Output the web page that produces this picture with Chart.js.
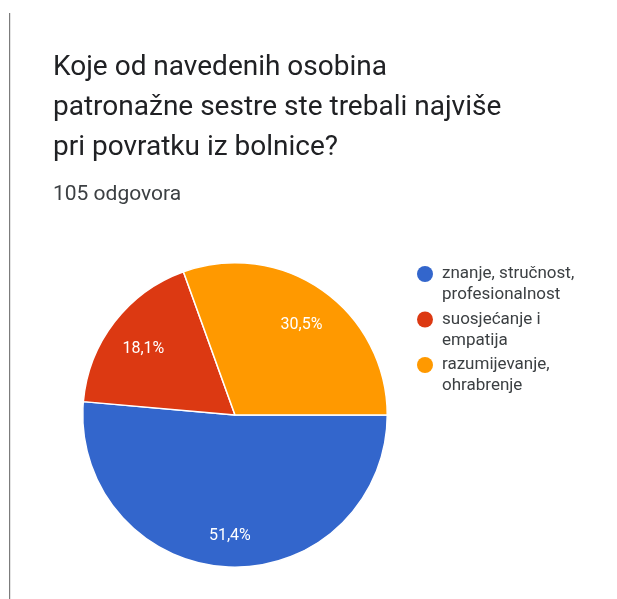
<!DOCTYPE html>
<html>
<head>
<meta charset="utf-8">
<script src="https://cdn.jsdelivr.net/npm/chart.js@4.4.0/dist/chart.umd.min.js"></script>
<style>
    body { margin: 0; background: #fff; }
    .frame { position: relative; width: 617px; height: 599px; }
    .frame .edge { position: absolute; left: 9px; top: 13px; width: 1px; height: 586px; background: #7c7c7c; border-right: 1px solid #e4e4e4; }
    canvas { position: absolute; left: 0; top: 0; }
</style>
</head>
<body>
<div class="frame">
    <div class="edge"></div>
    <canvas id="pieChart" width="617" height="599"></canvas>
</div>
<script>
// Chart data
const titleLines = ['Koje od navedenih osobina', 'patronažne sestre ste trebali najviše', 'pri povratku iz bolnice?'];
const subtitleText = '105 odgovora';
const categories = [['znanje, stručnost,', 'profesionalnost'], ['suosjećanje i', 'empatija'], ['razumijevanje,', 'ohrabrenje']];
const percentages = [51.4, 18.1, 30.5];
const sliceColors = ['#3366cc', '#dc3912', '#ff9900'];

// Title + subtitle drawn above the pie
const headerPlugin = {
    id: 'header',
    afterDraw(chart) {
        const ctx = chart.ctx;
        ctx.save();
        ctx.fillStyle = '#202124';
        ctx.textBaseline = 'alphabetic';
        ctx.textAlign = 'left';
        ctx.font = '28px Roboto';
        titleLines.forEach((line, i) => {
            ctx.fillText(line, 53, 75 + i * 40);
        });
        ctx.font = '21px Roboto';
        ctx.fillStyle = '#3c4043';
        ctx.fillText(subtitleText, 53, 200);
        ctx.restore();
    }
};

// Legend on the right with wrapped labels
const sideLegendPlugin = {
    id: 'sideLegend',
    afterDraw(chart) {
        const ctx = chart.ctx;
        const labels = chart.data.labels;
        const colors = chart.data.datasets[0].backgroundColor;
        ctx.save();
        ctx.font = '17px Roboto';
        ctx.textBaseline = 'middle';
        ctx.textAlign = 'left';
        labels.forEach((label, i) => {
            const y = 274 + i * 45.5;
            ctx.fillStyle = colors[i];
            ctx.beginPath();
            ctx.arc(425, y, 8, 0, Math.PI * 2);
            ctx.fill();
            ctx.fillStyle = '#3c4043';
            label.forEach((line, j) => {
                ctx.fillText(line, 442, y + j * 21);
            });
        });
        ctx.restore();
    }
};

// Percent labels inside each slice
const sliceLabelPlugin = {
    id: 'sliceLabels',
    afterDatasetsDraw(chart) {
        const ctx = chart.ctx;
        const meta = chart.getDatasetMeta(0);
        ctx.save();
        ctx.font = '16px Roboto';
        ctx.fillStyle = '#ffffff';
        ctx.textAlign = 'center';
        ctx.textBaseline = 'middle';
        meta.data.forEach((arc, i) => {
            const p = arc.getProps(['x', 'y', 'startAngle', 'endAngle', 'outerRadius'], true);
            const mid = (p.startAngle + p.endAngle) / 2;
            const r = p.outerRadius * 0.76;
            const text = percentages[i].toFixed(1).replace('.', ',') + '%';
            ctx.fillText(text, p.x + Math.cos(mid) * r, p.y + Math.sin(mid) * r + 5);
        });
        ctx.restore();
    }
};

document.addEventListener('DOMContentLoaded', function() {
    const ctx = document.getElementById('pieChart');
    new Chart(ctx, {
        type: 'pie',
        data: {
            labels: categories,
            datasets: [{
                data: percentages,
                backgroundColor: sliceColors,
                borderColor: '#ffffff',
                borderWidth: 1.5
            }]
        },
        options: {
            responsive: false,
            animation: false,
            rotation: 90,
            layout: {
                padding: { left: 82, right: 229, top: 262, bottom: 31 }
            },
            plugins: {
                legend: { display: false },
                tooltip: { enabled: false }
            }
        },
        plugins: [headerPlugin, sideLegendPlugin, sliceLabelPlugin]
    });
});
</script>
</body>
</html>
